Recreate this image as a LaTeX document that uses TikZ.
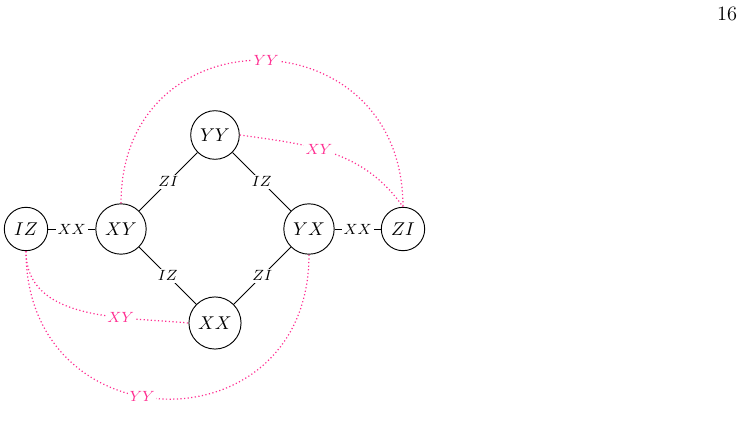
\documentclass[tikz,border=0pt]{standalone}
\definecolor{pk}{RGB}{255,45,145}
\begin{document}
\begin{tikzpicture}[x=0.54pt,y=0.54pt,
 state/.style={circle,draw,line width=0.5pt,inner sep=3.3pt,font=\normalsize},
 elab/.style={fill=white,inner sep=1pt,font=\footnotesize},
 qlab/.style={fill=white,inner sep=0.8pt,font=\footnotesize,text=pk},
 link/.style={line width=0.5pt},
 qlink/.style={draw=pk,line width=0.65pt,dash pattern=on 0.65pt off 1.3pt}]
\useasboundingbox (0,0) rectangle (742,435);
\node[state] (IZ) at (26,206) {$IZ$};
\node[state] (XY) at (121,206) {$XY$};
\node[state] (YY) at (215,300) {$YY$};
\node[state] (YX) at (309,206) {$YX$};
\node[state] (XX) at (215,112) {$XX$};
\node[state] (ZI) at (403,206) {$ZI$};
\node[font=\fontsize{11}{13}\selectfont,inner sep=0pt] (pg) at (727,421) {16};
% dotted pink connectors
\draw[qlink] (XY.north) to[out=90,in=90,looseness=1.75] node[qlab,pos=0.51] {$YY$} (ZI.north);
\draw[qlink] (YY.east) to[out=-8,in=125] node[qlab,pos=0.42] {$XY$} (ZI.north);
\draw[qlink] (IZ.south) to[out=-90,in=175] node[qlab,pos=0.69] {$XY$} (XX.west);
\draw[qlink] (IZ.south) to[out=-90,in=-90,looseness=1.76] node[qlab,pos=0.44] {$YY$} (YX.south);
% solid connectors
\draw[link] (IZ) -- node[elab] {$XX$} (XY);
\draw[link] (XY) -- node[elab] {$ZI$} (YY);
\draw[link] (YY) -- node[elab] {$IZ$} (YX);
\draw[link] (XY) -- node[elab] {$IZ$} (XX);
\draw[link] (XX) -- node[elab] {$ZI$} (YX);
\draw[link] (YX) -- node[elab] {$XX$} (ZI);
\end{tikzpicture}
\end{document}
